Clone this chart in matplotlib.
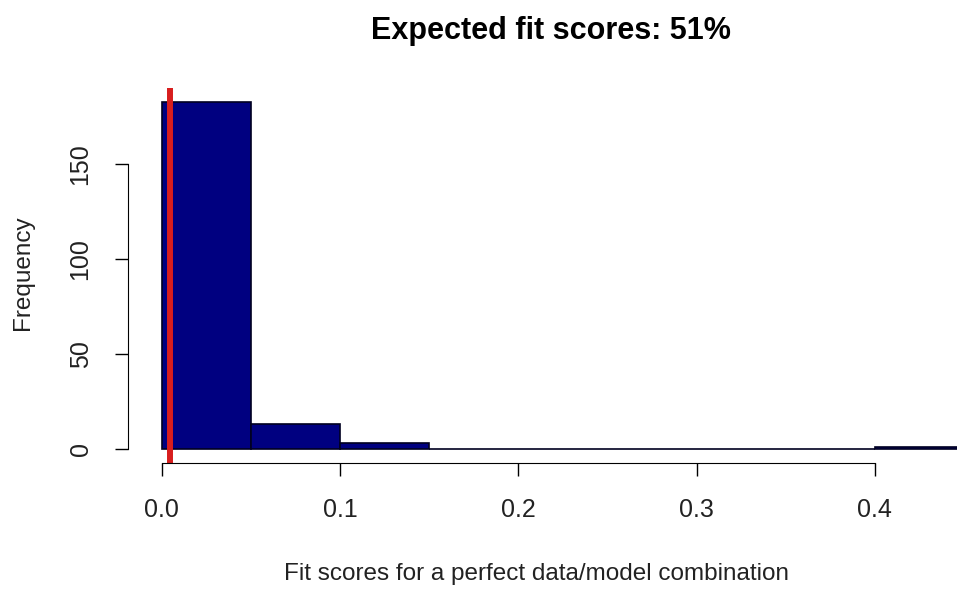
import matplotlib
matplotlib.use("Agg")
import matplotlib.pyplot as plt

bin_edges = [0.0, 0.05, 0.10, 0.15, 0.20, 0.25, 0.30, 0.35, 0.40, 0.45]
counts = [183, 13, 3, 0, 0, 0, 0, 0, 1]
expected_fit = 0.0045
title = "Expected fit scores: 51%"
xlabel = "Fit scores for a perfect data/model combination"
ylabel = "Frequency"
xticks = [0.0, 0.1, 0.2, 0.3, 0.4]
yticks = [0, 50, 100, 150]

plt.rcParams['font.family'] = ['Liberation Sans', 'DejaVu Sans']
W, H = 957, 593
fig = plt.figure(figsize=(W / 100, H / 100), dpi=100)
left_px, right_px, top_px, bot_px = 128, 996, 88, 463
ax = fig.add_axes([left_px / W, 1 - bot_px / H, (right_px - left_px) / W, (bot_px - top_px) / H])

lefts = bin_edges[:-1]
widths = [b - a for a, b in zip(bin_edges[:-1], bin_edges[1:])]
ax.bar(lefts, counts, width=widths, align='edge', color='#000080', edgecolor='#000020', linewidth=1.2)
ax.axvline(expected_fit, color='#d81e1e', linewidth=4.3)

ax.set_xlim(-0.019, 0.468)
ax.set_ylim(-7.3, 190.3)
for s in ['top', 'right']:
    ax.spines[s].set_visible(False)
ax.spines['left'].set_bounds(0, 150)
ax.spines['bottom'].set_bounds(0, 0.4)
ax.set_xticks(xticks)
ax.set_xticklabels([f"{t:.1f}" for t in xticks])
ax.set_yticks(yticks)
ax.set_yticklabels([str(t) for t in yticks], rotation=90, va='center')
ax.tick_params(length=9.5, width=1, labelsize=18, pad=16, colors='black')
ax.tick_params(axis='x', labelcolor='#222222')
ax.tick_params(axis='y', labelcolor='#222222')

fig.text(551 / W, 1 - 31 / H, title, fontsize=22, fontweight='bold', ha='center', va='center')
fig.text(537 / W, 1 - 574 / H, xlabel, fontsize=17.5, ha='center', va='center', color='#222222')
fig.text(23 / W, 1 - 273 / H, ylabel, fontsize=17.5, ha='center', va='center', rotation=90, color='#222222')

fig.savefig("out.png", dpi=100)
